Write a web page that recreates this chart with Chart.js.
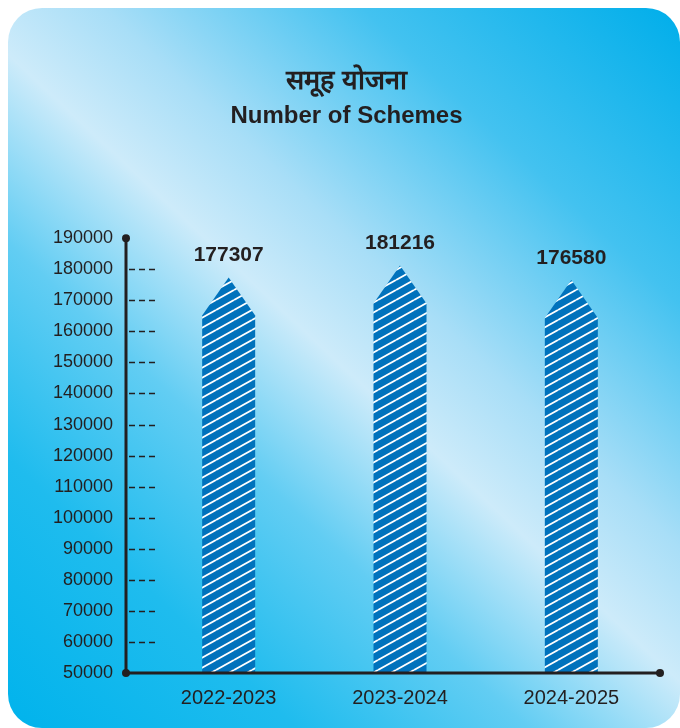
<!DOCTYPE html>
<html>
<head>
<meta charset="utf-8">
<title>समूह योजना</title>
<script src="https://cdn.jsdelivr.net/npm/chart.js@4.4.1/dist/chart.umd.min.js"></script>
<style>
  html, body { margin: 0; padding: 0; background: #fff; }
  canvas { display: block; }
</style>
</head>
<body>
<canvas id="schemesChart" width="680" height="728"></canvas>
<script>
// Data
const categories = ['2022-2023', '2023-2024', '2024-2025'];
const schemeCounts = [177307, 181216, 176580];
const titleHindi = 'समूह योजना';
const titleEnglish = 'Number of Schemes';
const yMin = 50000;
const yMax = 190000;
const yStep = 10000;

const INK = '#231f20';
const BAR_BLUE = '#0072bc';
const FONT = '"Liberation Sans", Arial, Helvetica, sans-serif';

let hatch = null;

// Blue tile with thin white diagonal stripes for the bars
function makeHatch(ctx) {
  const w = 18, h = 10;
  const tile = document.createElement('canvas');
  tile.width = w;
  tile.height = h;
  const c = tile.getContext('2d');
  c.fillStyle = BAR_BLUE;
  c.fillRect(0, 0, w, h);
  c.strokeStyle = '#ffffff';
  c.lineWidth = 1.8;
  [-h, 0, h].forEach(off => {
    c.beginPath();
    c.moveTo(0, h + off);
    c.lineTo(w, off);
    c.stroke();
  });
  return ctx.createPattern(tile, 'repeat');
}

// Rounded card with the diagonal sky-blue gradient
const backdrop = {
  id: 'backdrop',
  beforeDraw(chart) {
    const { ctx, width, height } = chart;
    ctx.save();
    ctx.fillStyle = '#ffffff';
    ctx.fillRect(0, 0, width, height);
    const g = ctx.createLinearGradient(8, height, width, 8);
    g.addColorStop(0, '#00b3ec');
    g.addColorStop(0.2, '#1fbcee');
    g.addColorStop(0.36, '#62cdf3');
    g.addColorStop(0.5, '#cdebfa');
    g.addColorStop(0.6, '#a8def7');
    g.addColorStop(0.78, '#43c2f0');
    g.addColorStop(1, '#00aeea');
    ctx.fillStyle = g;
    ctx.beginPath();
    ctx.roundRect(8, 8, width - 8, height - 8, 34);
    ctx.fill();
    ctx.restore();
  }
};

// Arrow-topped hatched bars, value labels and the axes with end dots
const pentagonBars = {
  id: 'pentagonBars',
  afterDatasetsDraw(chart) {
    const { ctx, chartArea, scales: { y } } = chart;
    const meta = chart.getDatasetMeta(0);
    const values = chart.data.datasets[0].data;
    if (!hatch) hatch = makeHatch(ctx);

    const top = y.getPixelForValue(yMax);
    const bottom = y.getPixelForValue(yMin);

    ctx.save();
    meta.data.forEach((bar, i) => {
      const half = bar.width / 2;
      const base = Math.min(bar.base, bottom);
      const shoulder = bar.y + 38;
      ctx.beginPath();
      ctx.moveTo(bar.x - half, base);
      ctx.lineTo(bar.x - half, shoulder);
      ctx.lineTo(bar.x, bar.y);
      ctx.lineTo(bar.x + half, shoulder);
      ctx.lineTo(bar.x + half, base);
      ctx.closePath();
      ctx.fillStyle = hatch;
      ctx.fill();

      ctx.fillStyle = INK;
      ctx.font = 'bold 21px ' + FONT;
      ctx.textAlign = 'center';
      ctx.textBaseline = 'middle';
      ctx.fillText(String(values[i]), bar.x, bar.y - 22);
    });

    const axisX = chartArea.left - 17;
    const right = chartArea.right + 3;

    // short dashed ticks next to the y axis
    ctx.strokeStyle = INK;
    ctx.lineWidth = 1.3;
    ctx.setLineDash([6, 4]);
    for (let v = yMin + yStep; v < yMax; v += yStep) {
      const py = Math.round(y.getPixelForValue(v)) + 0.5;
      ctx.beginPath();
      ctx.moveTo(axisX + 3, py);
      ctx.lineTo(axisX + 30, py);
      ctx.stroke();
    }
    ctx.setLineDash([]);

    ctx.lineWidth = 3;
    ctx.beginPath();
    ctx.moveTo(axisX, top);
    ctx.lineTo(axisX, bottom);
    ctx.lineTo(right, bottom);
    ctx.stroke();

    ctx.fillStyle = INK;
    [[axisX, top], [axisX, bottom], [right, bottom]].forEach(([px, py]) => {
      ctx.beginPath();
      ctx.arc(px, py, 4, 0, Math.PI * 2);
      ctx.fill();
    });
    ctx.restore();
  }
};

new Chart(document.getElementById('schemesChart'), {
  type: 'bar',
  data: {
    labels: categories,
    datasets: [{
      data: schemeCounts,
      backgroundColor: 'rgba(0,0,0,0)',
      borderWidth: 0,
      barThickness: 53
    }]
  },
  options: {
    responsive: false,
    animation: false,
    layout: { padding: { top: 0, left: 36, right: 23, bottom: 19 } },
    plugins: {
      legend: { display: false },
      tooltip: { enabled: false },
      title: {
        display: true,
        text: titleHindi,
        color: INK,
        font: { family: FONT, size: 27, weight: 'bold', lineHeight: 1.2 },
        padding: { top: 65, bottom: 0 }
      },
      subtitle: {
        display: true,
        text: titleEnglish,
        color: INK,
        font: { family: FONT, size: 24, weight: 'bold', lineHeight: 1.2 },
        padding: { top: 5, bottom: 107 }
      }
    },
    scales: {
      x: {
        grid: { display: false, drawTicks: false },
        border: { display: false },
        afterFit(scale) { scale.height = 36; },
        ticks: {
          color: INK,
          padding: 13,
          font: { family: FONT, size: 20 }
        }
      },
      y: {
        min: yMin,
        max: yMax,
        grid: { display: false, drawTicks: false },
        border: { display: false },
        afterFit(scale) { scale.width = 107; },
        ticks: {
          stepSize: yStep,
          color: INK,
          padding: 30,
          font: { family: FONT, size: 18 },
          callback: v => String(v)
        }
      }
    }
  },
  plugins: [backdrop, pentagonBars]
});
</script>
</body>
</html>
